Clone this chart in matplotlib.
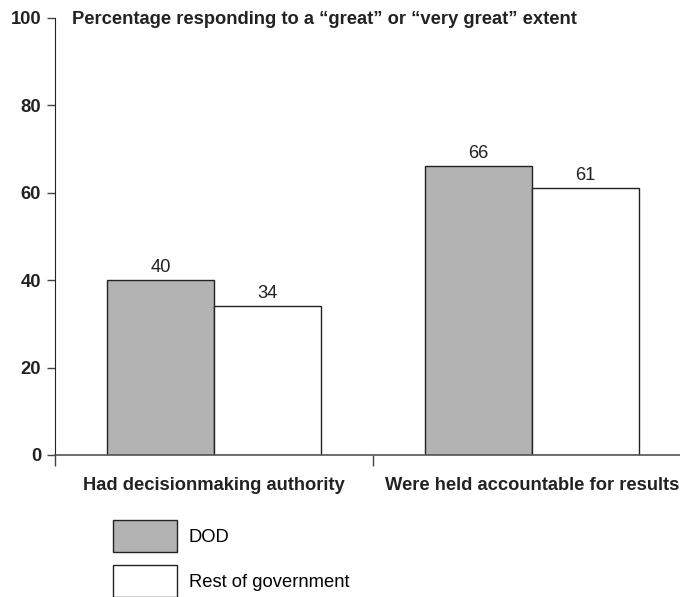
import matplotlib
matplotlib.use('Agg')
import numpy as np
from matplotlib import pyplot as plt
from matplotlib.patches import Patch

# Data
categories = ['Had decisionmaking authority', 'Were held accountable for results']
series_names = ['DOD', 'Rest of government']
dod = [40, 66]
rest = [34, 61]
yticks = [0, 20, 40, 60, 80, 100]
title = 'Percentage responding to a \u201cgreat\u201d or \u201cvery great\u201d extent'

plt.rcParams['font.family'] = ['Liberation Sans', 'DejaVu Sans']
fs = 13.2

fig = plt.figure(figsize=(6.8, 5.97), dpi=100)
ax = fig.add_axes([0.081, 0.238, 0.919, 0.732])

x = np.arange(len(categories))
w = 0.336
b1 = ax.bar(x - w / 2, dod, w, color='#b3b3b3', edgecolor='#222222', linewidth=1, label=series_names[0])
b2 = ax.bar(x + w / 2, rest, w, color='white', edgecolor='#222222', linewidth=1, label=series_names[1])
ax.bar_label(b1, padding=3, fontsize=fs, color='#222222')
ax.bar_label(b2, padding=3, fontsize=fs, color='#222222')

ax.set_xlim(-0.5, 1.465)
ax.set_ylim(0, 100)
ax.set_yticks(yticks)
ax.set_yticklabels([str(t) for t in yticks], fontweight='bold', fontsize=fs, color='#222222')
ax.tick_params(axis='y', length=6, width=1, color='#444444', pad=4)

ax.set_xticks(x)
ax.set_xticklabels(categories, fontweight='bold', fontsize=fs, color='#222222')
ax.tick_params(axis='x', which='major', length=0, pad=16)
ax.set_xticks([-0.5, 0.5], minor=True)
ax.tick_params(axis='x', which='minor', length=8, width=1, color='#444444')

for s in ['top', 'right']:
    ax.spines[s].set_visible(False)
ax.spines['left'].set_color('#222222')
ax.spines['bottom'].set_color('#555555')
ax.spines['bottom'].set_linewidth(1.2)

fig.text(0.106, 0.967, title, fontweight='bold', fontsize=fs, color='#222222', va='center', ha='left')

handles = [Patch(facecolor='#b3b3b3', edgecolor='#222222', linewidth=1),
           Patch(facecolor='white', edgecolor='#222222', linewidth=1)]
fig.legend(handles, series_names, loc='upper left', bbox_to_anchor=(0.166, 0.129),
           frameon=False, fontsize=fs, handlelength=3.5, handleheight=2.28,
           handletextpad=0.65, labelspacing=0.75, borderpad=0, borderaxespad=0)

fig.savefig('out.png', dpi=100)
